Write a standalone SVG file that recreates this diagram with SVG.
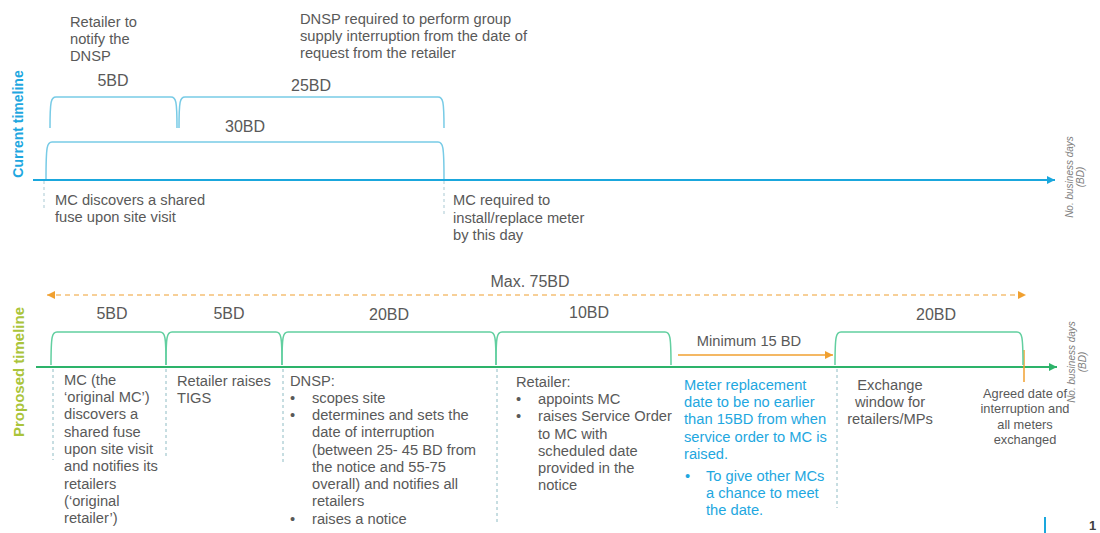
<svg xmlns="http://www.w3.org/2000/svg" width="1100" height="533" viewBox="0 0 1100 533">
<defs>
<style>
text{font-family:"Liberation Sans",Arial,sans-serif;font-size:14.7px;fill:#595959}
.blue{fill:#1ea7e0}
.mid{text-anchor:middle}
.lbl{font-size:16px}
.side{font-size:10px;font-style:italic;fill:#808080;text-anchor:middle}
.brT{fill:none;stroke:#78cbe6;stroke-width:1.5}
.brP{fill:none;stroke:#62cfa0;stroke-width:1.5}
.dashT{stroke:#a9c9d3;stroke-width:1;stroke-dasharray:3 3}
.dashP{stroke:#8fbcc4;stroke-width:1;stroke-dasharray:3 3}
</style>
<marker id="aBlue" viewBox="0 0 10 10" refX="10" refY="5" markerWidth="9" markerHeight="8" markerUnits="userSpaceOnUse" orient="auto"><path d="M0,0 L10,5 L0,10 z" fill="#1aa7dd"/></marker>
<marker id="aGreen" viewBox="0 0 10 10" refX="10" refY="5" markerWidth="9" markerHeight="8" markerUnits="userSpaceOnUse" orient="auto"><path d="M0,0 L10,5 L0,10 z" fill="#2db36a"/></marker>
<marker id="aOrange" viewBox="0 0 10 10" refX="10" refY="5" markerWidth="9" markerHeight="8" markerUnits="userSpaceOnUse" orient="auto-start-reverse"><path d="M0,0 L10,5 L0,10 z" fill="#f0a030"/></marker>
</defs>
<rect width="1100" height="533" fill="#ffffff"/>

<g id="connectors">
<line x1="33" y1="180" x2="1055" y2="180" stroke="#1aa7dd" stroke-width="2" marker-end="url(#aBlue)"/>
<line x1="36" y1="367" x2="1057" y2="367" stroke="#2db36a" stroke-width="2" marker-end="url(#aGreen)"/>
<line x1="47" y1="295" x2="1026" y2="295" stroke="#f0a030" stroke-width="1.2" stroke-dasharray="5 4" marker-start="url(#aOrange)" marker-end="url(#aOrange)"/>
<line x1="678" y1="355" x2="833" y2="355" stroke="#f0a030" stroke-width="1.5" marker-end="url(#aOrange)"/>
<line x1="1024" y1="350" x2="1024" y2="382" stroke="#f0a030" stroke-width="1.5"/>
<line class="dashT" x1="44" y1="181" x2="44" y2="210"/>
<line class="dashT" x1="444" y1="181" x2="444" y2="216"/>
<line class="dashP" x1="53" y1="369" x2="53" y2="460"/>
<line class="dashP" x1="166" y1="369" x2="166" y2="457"/>
<line class="dashP" x1="283" y1="369" x2="283" y2="463"/>
<line class="dashP" x1="497" y1="369" x2="497" y2="522"/>
<line class="dashP" x1="837" y1="369" x2="837" y2="508"/>
<line x1="1045" y1="517" x2="1045" y2="533" stroke="#1aa7dd" stroke-width="2"/>
</g>

<g id="current-timeline">
<text transform="translate(23,124) rotate(-90)" class="mid" style="font-weight:bold;font-size:14px;fill:#1ea7e0">Current timeline</text>
<text transform="translate(1073,177) rotate(-90)" class="side"><tspan x="0" y="0">No. business days</tspan><tspan x="0" y="11">(BD)</tspan></text>
</g>

<g id="bracket-5bd-current">
<path class="brT" d="M50,128 C50,101 51,97 56,97 H171 C176,97 177,101 177,128"/>
<text class="mid lbl" x="113" y="86">5BD</text>
<text x="70" y="27">Retailer to</text>
<text x="70" y="44">notify the</text>
<text x="70" y="61">DNSP</text>
</g>

<g id="bracket-25bd-current">
<path class="brT" d="M179,128 C179,101 180,97 185,97 H438 C443,97 444,101 444,128"/>
<text class="mid lbl" x="311" y="91">25BD</text>
<text x="300" y="24">DNSP required to perform group</text>
<text x="300" y="41">supply interruption from the date of</text>
<text x="300" y="58">request from the retailer</text>
</g>

<g id="bracket-30bd-current">
<path class="brT" d="M46,179 C46,146 47,142 52,142 H438 C443,142 444,146 444,179"/>
<text class="mid lbl" x="245" y="132">30BD</text>
</g>

<g id="mc-discovers">
<text x="55" y="205">MC discovers a shared</text>
<text x="55" y="222">fuse upon site visit</text>
</g>

<g id="mc-required">
<text x="453" y="205">MC required to</text>
<text x="453" y="223">install/replace meter</text>
<text x="453" y="240">by this day</text>
</g>

<g id="proposed-timeline">
<text transform="translate(24,372) rotate(-90)" class="mid" style="font-weight:bold;font-size:15px;fill:#aac43a">Proposed timeline</text>
<text transform="translate(1075,362) rotate(-90)" class="side"><tspan x="0" y="0">No. business days</tspan><tspan x="0" y="11">(BD)</tspan></text>
<text class="mid lbl" x="530" y="287">Max. 75BD</text>
</g>

<g id="step1">
<path class="brP" d="M51,365 C51,336 52,332 57,332 H160 C165,332 166,336 166,365"/>
<text class="mid lbl" x="112" y="319">5BD</text>
<text x="64" y="385">MC (the</text>
<text x="64" y="402">‘original MC’)</text>
<text x="64" y="419">discovers a</text>
<text x="64" y="437">shared fuse</text>
<text x="64" y="454">upon site visit</text>
<text x="64" y="471">and notifies its</text>
<text x="64" y="489">retailers</text>
<text x="64" y="506">(‘original</text>
<text x="64" y="523">retailer’)</text>
</g>

<g id="step2">
<path class="brP" d="M166,365 C166,336 167,332 172,332 H276 C281,332 282,336 282,365"/>
<text class="mid lbl" x="229" y="319">5BD</text>
<text x="177" y="386">Retailer raises</text>
<text x="177" y="403">TIGS</text>
</g>

<g id="step3">
<path class="brP" d="M282,365 C282,336 283,332 288,332 H490 C495,332 496,336 496,365"/>
<text class="mid lbl" x="389" y="320">20BD</text>
<text x="290" y="386">DNSP:</text>
<text x="290" y="403">•</text><text x="312" y="403">scopes site</text>
<text x="290" y="420">•</text><text x="312" y="420">determines and sets the</text>
<text x="312" y="437">date of interruption</text>
<text x="312" y="455">(between 25- 45 BD from</text>
<text x="312" y="472">the notice and 55-75</text>
<text x="312" y="489">overall) and notifies all</text>
<text x="312" y="506">retailers</text>
<text x="290" y="524">•</text><text x="312" y="524">raises a notice</text>
</g>

<g id="step4">
<path class="brP" d="M496,365 C496,336 497,332 502,332 H665 C670,332 671,336 671,365"/>
<text class="mid lbl" x="589" y="318">10BD</text>
<text x="516" y="387">Retailer:</text>
<text x="516" y="404">•</text><text x="538" y="404">appoints MC</text>
<text x="516" y="421">•</text><text x="538" y="421">raises Service Order</text>
<text x="538" y="439">to MC with</text>
<text x="538" y="456">scheduled date</text>
<text x="538" y="473">provided in the</text>
<text x="538" y="490">notice</text>
</g>

<g id="step5">
<text class="mid" x="749" y="346">Minimum 15 BD</text>
<text class="blue" x="684" y="390">Meter replacement</text>
<text class="blue" x="684" y="407">date to be no earlier</text>
<text class="blue" x="684" y="424">than 15BD from when</text>
<text class="blue" x="684" y="442">service order to MC is</text>
<text class="blue" x="684" y="459">raised.</text>
<text class="blue" x="685" y="481">•</text><text class="blue" x="706" y="481">To give other MCs</text>
<text class="blue" x="706" y="498">a chance to meet</text>
<text class="blue" x="706" y="515">the date.</text>
</g>

<g id="step6">
<path class="brP" d="M835,365 C835,336 836,332 841,332 H1017 C1022,332 1023,336 1023,365"/>
<text class="mid lbl" x="936" y="320">20BD</text>
<text class="mid" x="890" y="390">Exchange</text>
<text class="mid" x="890" y="407">window for</text>
<text class="mid" x="890" y="424">retailers/MPs</text>
</g>

<g id="agreed-date">
<text class="mid" style="font-size:12.8px" x="1025" y="398">Agreed date of</text>
<text class="mid" style="font-size:12.8px" x="1025" y="413">interruption and</text>
<text class="mid" style="font-size:12.8px" x="1025" y="429">all meters</text>
<text class="mid" style="font-size:12.8px" x="1025" y="444">exchanged</text>
</g>

<g id="page-number">
<text x="1089" y="530" style="font-weight:bold;font-size:13px;fill:#404040">1</text>
</g>
</svg>
